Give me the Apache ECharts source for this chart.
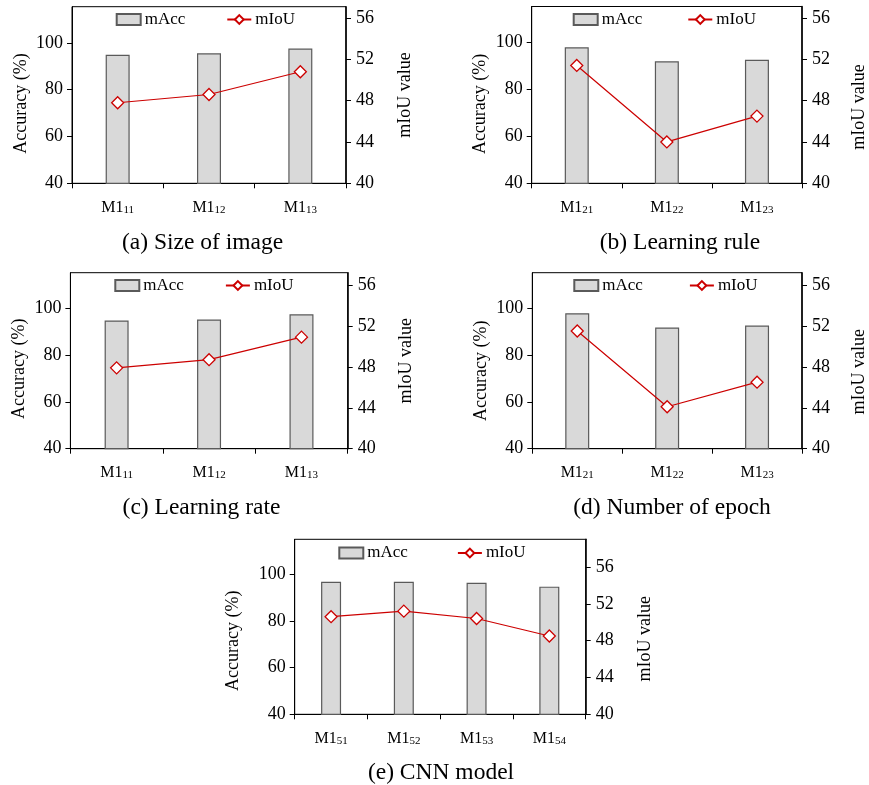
<!DOCTYPE html>
<html><head><meta charset="utf-8">
<script src="https://cdn.jsdelivr.net/npm/echarts@6/dist/echarts.min.js"></script>
<style>html,body{margin:0;padding:0;background:#fff}#c{width:869px;height:785px}</style>
</head><body><div id="c"></div>
<script>
// ---- data ----
const catsA = ['M1_11', 'M1_12', 'M1_13'];
const accA = [94.9, 95.5, 97.5];
const iouA = [47.8, 48.6, 50.8];

const catsB = ['M1_21', 'M1_22', 'M1_23'];
const accB = [98.0, 92.0, 92.7];
const iouB = [51.4, 44.0, 46.5];

const catsC = ['M1_11', 'M1_12', 'M1_13'];
const accC = [94.8, 95.2, 97.4];
const iouC = [47.9, 48.7, 50.9];

const catsD = ['M1_21', 'M1_22', 'M1_23'];
const accD = [97.9, 91.8, 92.6];
const iouD = [51.5, 44.1, 46.5];

const catsE = ['M1_51', 'M1_52', 'M1_53', 'M1_54'];
const accE = [96.8, 96.8, 96.4, 94.7];
const iouE = [50.6, 51.2, 50.4, 48.5];

const accTicks = [40, 60, 80, 100];
const iouTicks = [40, 44, 48, 52, 56];
const seriesNames = ['mAcc', 'mIoU'];
const accName = 'Accuracy (%)';
const iouName = 'mIoU value';
const captions = ['(a) Size of image', '(b) Learning rule', '(c) Learning rate', '(d) Number of epoch', '(e) CNN model'];

// ---- layout (positions / styles only) ----
const FONT = "'Liberation Serif', 'Times New Roman', serif";
const panels = [
  { cats: catsA, acc: accA, iou: iouA, grid: { left: 72, top: 6.7, width: 274, height: 176.6 }, accMax: 115.4, iouMax: 57.1, barW: 24, leg: [115.7, 11], legGap: 41, cap: [202.5, 243], lGap: 42, rGap: 50, lShift: 8.5, rShift: 0 },
  { cats: catsB, acc: accB, iou: iouB, grid: { left: 531.7, top: 6.5, width: 276.6, height: 176.8 }, accMax: 115.4, iouMax: 57.1, barW: 24, leg: [572.7, 11], legGap: 45, cap: [680, 243], lGap: 42, rGap: 48, lShift: 9, rShift: 12 },
  { cats: catsC, acc: accC, iou: iouC, grid: { left: 70.4, top: 272.7, width: 277.3, height: 176 }, accMax: 115.2, iouMax: 57.2, barW: 24, leg: [114.3, 277], legGap: 41, cap: [201.5, 508], lGap: 42, rGap: 50, lShift: 8, rShift: 0 },
  { cats: catsD, acc: accD, iou: iouD, grid: { left: 532.3, top: 272.7, width: 277.7, height: 176 }, accMax: 115.2, iouMax: 57.2, barW: 24, leg: [573.3, 277], legGap: 46, cap: [672, 508], lGap: 42, rGap: 48, lShift: 10, rShift: 11 },
  { cats: catsE, acc: accE, iou: iouE, grid: { left: 294.7, top: 539.3, width: 291, height: 175 }, accMax: 115, iouMax: 59, barW: 20, leg: [338.3, 544.5], legGap: 49, cap: [441, 773], lGap: 52, rGap: 51, lShift: 14, rShift: 12 }
];

const grid = [], xAxis = [], yAxis = [], series = [], legend = [], graphic = [];
panels.forEach((p, i) => {
  grid.push(Object.assign({ show: true, borderColor: '#000', borderWidth: 1, backgroundColor: 'transparent' }, p.grid));
  xAxis.push({
    type: 'category', gridIndex: i, data: p.cats, boundaryGap: true,
    axisLine: { show: true, lineStyle: { color: '#000', width: 1 } },
    axisTick: { show: true, length: 5, inside: false, interval: 0, lineStyle: { color: '#000' } },
    axisLabel: {
      interval: 0, margin: 16, color: '#000', fontFamily: FONT, fontSize: 16,
      formatter: v => { const s = v.split('_'); return s[0] + '{s|' + s[1] + '}'; },
      rich: { s: { fontFamily: FONT, fontSize: 11, color: '#000', verticalAlign: 'bottom' } }
    }
  });
  yAxis.push({
    type: 'value', gridIndex: i, position: 'left', min: 40, max: p.accMax,
    axisLine: { show: true, lineStyle: { color: '#000', width: 1 } },
    axisTick: { show: true, length: 5, customValues: accTicks, lineStyle: { color: '#000' } },
    axisLabel: { customValues: accTicks, margin: 9, color: '#000', fontFamily: FONT, fontSize: 18 },
    splitLine: { show: false },
    name: accName, nameLocation: 'middle', nameRotate: 90, nameGap: p.lGap,
    nameTextStyle: { color: '#000', fontFamily: FONT, fontSize: 18, padding: [0, 2 * p.lShift, 0, 0] }
  });
  yAxis.push({
    type: 'value', gridIndex: i, position: 'right', min: 40, max: p.iouMax,
    axisLine: { show: true, lineStyle: { color: '#000', width: 1.5 } },
    axisTick: { show: true, length: 5, customValues: iouTicks, lineStyle: { color: '#000' } },
    axisLabel: { customValues: iouTicks, margin: 10, color: '#000', fontFamily: FONT, fontSize: 18 },
    splitLine: { show: false },
    name: iouName, nameLocation: 'middle', nameRotate: 90, nameGap: p.rGap,
    nameTextStyle: { color: '#000', fontFamily: FONT, fontSize: 18, padding: [0, 2 * p.rShift, 0, 0] }
  });
  series.push({
    type: 'bar', name: seriesNames[0], xAxisIndex: i, yAxisIndex: 2 * i, data: p.acc, barWidth: p.barW,
    itemStyle: { color: '#d9d9d9', borderColor: '#5a5a5a', borderWidth: 1.2 }, z: 2
  });
  series.push({
    type: 'line', name: seriesNames[1], xAxisIndex: i, yAxisIndex: 2 * i + 1, data: p.iou,
    symbol: 'diamond', symbolSize: 12,
    lineStyle: { color: '#cc0000', width: 1.2 },
    itemStyle: { color: '#ffffff', borderColor: '#cc0000', borderWidth: 1.3 }, z: 3
  });
  legend.push({
    left: p.leg[0], top: p.leg[1], padding: 0, itemGap: p.legGap, itemWidth: 24, itemHeight: 11,
    data: [{ name: seriesNames[0], icon: 'rect' }, { name: seriesNames[1] }],
    textStyle: { color: '#000', fontFamily: FONT, fontSize: 17, padding: [0, 0, 0, -1] },
    selectedMode: false
  });
  graphic.push({
    type: 'text', x: p.cap[0], y: p.cap[1],
    style: { text: captions[i], fill: '#000', font: '23.5px ' + FONT, textAlign: 'center', textVerticalAlign: 'middle' }
  });
});

const chart = echarts.init(document.getElementById('c'), null, { renderer: 'canvas' });
chart.setOption({ animation: false, backgroundColor: '#fff', grid, xAxis, yAxis, series, legend, graphic });
</script>
</body></html>
